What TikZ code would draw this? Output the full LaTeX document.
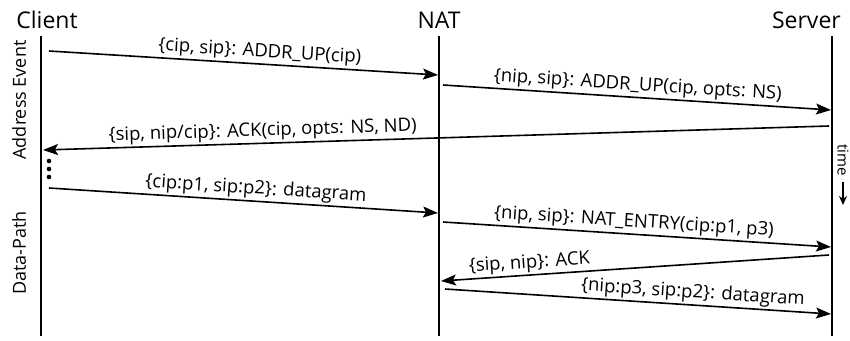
\documentclass[tikz,border=0pt]{standalone}
\usepackage{fontspec}
\setmainfont{Open Sans}
\usetikzlibrary{arrows.meta}
\begin{document}
\begin{tikzpicture}[x=1pt,y=-1pt,
  life/.style={line width=1.8pt},
  msg/.style={line width=1.6pt,-{Stealth[length=15pt,width=11pt,inset=3pt]}},
  lbl/.style={font=\fontsize{18.5}{20}\selectfont,sloped,above,inner sep=2pt},
  title/.style={font=\fontsize{23}{25}\selectfont,inner sep=0pt},
  side/.style={font=\fontsize{18}{20}\selectfont,rotate=90,inner sep=0pt}]
\useasboundingbox (0,0) rectangle (850,340);

% actors
\node[title,anchor=base] (client) at (47,28) {Client};
\node[title,anchor=base] (nat) at (439,28) {NAT};
\node[title,anchor=base east] (server) at (841,28) {Server};

% lifelines
\coordinate (ctop) at (41,36);  \coordinate (cbot) at (41,336);
\coordinate (ntop) at (439,36); \coordinate (nbot) at (439,336);
\coordinate (stop) at (832,36); \coordinate (sbot) at (832,336);
\draw[life] (ctop) -- (cbot);
\draw[life] (ntop) -- (nbot);
\draw[life] (stop) -- (sbot);

% phase labels
\node[side] (addr) at (19,100) {Address Event};
\node[side] (data) at (19,253) {Data-Path};

% time indicator
\node[font=\fontsize{15}{16}\selectfont,rotate=-90,inner sep=0pt] (time) at (843,160) {time};
\coordinate (tstart) at (843,182);
\coordinate (tend) at (843,205);
\draw[line width=1.5pt,-{Stealth[length=9pt,width=8pt]}] (tstart) -- (tend);

% message end points
\coordinate (m1a) at (49,51);   \coordinate (m1b) at (438,75);
\coordinate (m2a) at (443,85);  \coordinate (m2b) at (831,110);
\coordinate (m3a) at (829,126); \coordinate (m3b) at (43,150);
\coordinate (m4a) at (49,188);  \coordinate (m4b) at (438,213);
\coordinate (m5a) at (443,222); \coordinate (m5b) at (831,247);
\coordinate (m6a) at (829,255); \coordinate (m6b) at (441,281);
\coordinate (m7a) at (445,289); \coordinate (m7b) at (831,314);

% messages
\draw[msg] (m1a) -- node[lbl,pos=0.54] (l1) {\{cip, sip\}: ADDR\_UP(cip)} (m1b);
\draw[msg] (m2a) -- node[lbl,pos=0.5] (l2) {\{nip, sip\}: ADDR\_UP(cip, opts: NS)} (m2b);
\draw[msg] (m3a) -- node[lbl,pos=0.72] (l3) {\{sip, nip/cip\}: ACK(cip, opts: NS, ND)} (m3b);
\draw[msg] (m4a) -- node[lbl,pos=0.53] (l4) {\{cip:p1, sip:p2\}: datagram} (m4b);
\draw[msg] (m5a) -- node[lbl,pos=0.49] (l5) {\{nip, sip\}: NAT\_ENTRY(cip:p1, p3)} (m5b);
\draw[msg] (m6a) -- node[lbl,pos=0.77] (l6) {\{sip, nip\}: ACK} (m6b);
\draw[msg] (m7a) -- node[lbl,pos=0.64] (l7) {\{nip:p3, sip:p2\}: datagram} (m7b);

% continuation dots
\foreach \yy/\nm in {161/d1,169/d2,177/d3}
  \fill (49,\yy) circle (2.3pt) coordinate (\nm);
\end{tikzpicture}
\end{document}
